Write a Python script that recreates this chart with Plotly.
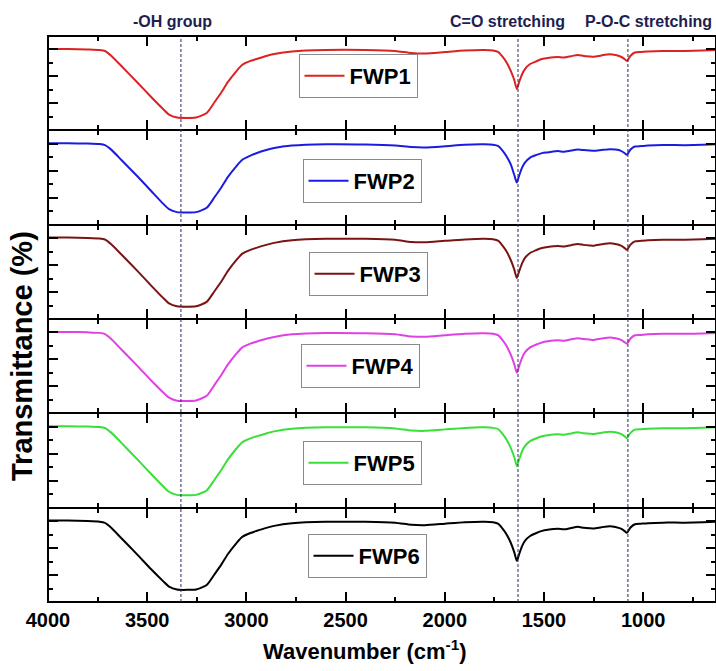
import plotly.graph_objects as go
from plotly.subplots import make_subplots

# ---------------- data ----------------
wavenumber = [4000, 3900, 3800, 3740, 3713, 3680, 3630, 3552, 3480, 3420,
              3390, 3350, 3300, 3254, 3200, 3160, 3125, 3093, 3050, 3022,
              2980, 2950, 2900, 2860, 2770, 2600, 2400, 2250, 2170, 2100,
              2000, 1900, 1800, 1757, 1730, 1712, 1690, 1667, 1650, 1637,
              1625, 1610, 1596, 1570, 1541, 1510, 1481, 1430, 1400, 1364,
              1330, 1300, 1270, 1248, 1210, 1167, 1140, 1112, 1095, 1082,
              1065, 1042, 1010, 976, 900, 790, 700, 633]

fwp1 = [60.4, 60.4, 60.0, 59.6, 58.9, 55.2, 47.7, 35.9, 24.7, 15.8,
        11.7, 9.5, 9.2, 9.5, 12.9, 21.0, 28.4, 35.9, 44.0, 48.5,
        51.5, 52.9, 55.2, 56.6, 58.5, 59.6, 59.6, 58.9, 57.4, 57.0,
        58.1, 59.2, 59.6, 59.2, 58.1, 55.2, 50.7, 44.0, 37.4, 30.7,
        35.9, 41.8, 45.5, 49.2, 51.1, 52.9, 53.7, 54.4, 54.0, 55.0,
        55.9, 55.2, 54.8, 54.6, 55.6, 56.4, 55.9, 54.6, 53.0, 51.5,
        55.2, 57.8, 58.1, 58.5, 58.9, 58.9, 59.2, 59.6]
fwp2 = [60.4, 60.4, 60.2, 59.8, 59.0, 55.5, 48.0, 36.3, 25.0, 15.6,
        11.5, 9.3, 9.0, 9.3, 12.5, 20.5, 28.0, 35.5, 43.5, 48.0,
        51.2, 53.0, 55.4, 56.9, 58.7, 59.7, 59.5, 58.7, 57.6, 57.3,
        58.2, 59.3, 59.6, 59.3, 58.3, 55.5, 51.0, 44.5, 37.0, 31.2,
        36.5, 42.5, 46.0, 49.8, 51.6, 53.1, 53.6, 54.6, 54.1, 55.0,
        55.7, 55.4, 55.0, 54.8, 55.4, 56.0, 55.7, 54.8, 53.2, 51.8,
        55.6, 58.0, 58.3, 58.7, 59.1, 59.0, 59.3, 59.7]
fwp3 = [60.4, 60.4, 60.1, 59.7, 59.0, 55.3, 47.9, 36.1, 24.8, 15.7,
        11.6, 9.4, 9.1, 9.4, 12.7, 20.8, 28.2, 35.7, 43.8, 48.3,
        51.3, 52.8, 55.0, 56.5, 58.4, 59.5, 59.5, 58.8, 57.2, 56.9,
        58.0, 59.0, 59.5, 59.1, 58.0, 55.0, 50.4, 43.6, 36.8, 30.5,
        35.5, 41.5, 45.3, 49.0, 51.0, 52.7, 53.5, 54.2, 53.8, 54.8,
        55.7, 55.0, 54.6, 54.4, 55.4, 56.2, 55.6, 54.4, 52.8, 51.3,
        55.0, 57.6, 58.0, 58.4, 58.8, 58.8, 59.1, 59.5]
fwp4 = [60.4, 60.4, 60.1, 59.7, 58.8, 55.0, 47.4, 35.6, 24.4, 15.6,
        11.7, 9.4, 9.2, 9.5, 13.0, 21.3, 28.8, 36.3, 44.3, 48.8,
        51.7, 53.1, 55.3, 56.7, 58.6, 59.6, 59.4, 58.6, 57.1, 56.8,
        58.0, 59.1, 59.5, 59.1, 57.9, 54.9, 50.3, 43.3, 36.5, 30.2,
        35.2, 41.4, 45.2, 48.9, 50.9, 52.6, 53.5, 54.3, 53.9, 54.9,
        55.8, 55.1, 54.7, 54.5, 55.5, 56.3, 55.7, 54.5, 52.9, 51.6,
        55.3, 57.9, 58.2, 58.6, 59.0, 59.0, 59.3, 59.7]
fwp5 = [60.4, 60.4, 60.2, 59.8, 59.1, 55.5, 48.1, 36.2, 25.0, 15.9,
        11.8, 9.5, 9.2, 9.5, 12.8, 20.9, 28.3, 35.8, 43.9, 48.4,
        51.4, 52.9, 55.1, 56.6, 58.5, 59.6, 59.6, 58.8, 57.3, 57.0,
        58.1, 59.2, 59.6, 59.2, 58.2, 55.3, 50.8, 44.2, 37.6, 31.0,
        36.0, 42.0, 45.7, 49.4, 51.3, 53.0, 53.8, 54.5, 54.1, 55.1,
        55.9, 55.3, 54.9, 54.7, 55.6, 56.3, 56.0, 54.7, 53.1, 51.6,
        55.3, 57.9, 58.2, 58.6, 59.0, 59.0, 59.3, 59.7]
fwp6 = [60.4, 60.4, 60.1, 59.6, 58.7, 54.9, 47.3, 35.5, 24.3, 15.5,
        11.4, 9.2, 9.0, 9.3, 12.6, 20.7, 28.1, 35.6, 43.7, 48.2,
        51.2, 52.7, 55.0, 56.5, 58.4, 59.5, 59.5, 58.8, 57.3, 57.0,
        58.1, 59.2, 59.6, 59.2, 58.0, 55.0, 50.5, 43.8, 37.0, 30.6,
        35.6, 41.6, 45.4, 49.0, 51.0, 52.8, 53.6, 54.3, 53.9, 54.9,
        55.8, 55.1, 54.7, 54.5, 55.5, 56.3, 55.7, 54.4, 52.8, 51.3,
        55.1, 57.7, 58.1, 58.5, 58.9, 58.9, 59.2, 59.6]

sample_names = ["FWP1", "FWP2", "FWP3", "FWP4", "FWP5", "FWP6"]
sample_values = [fwp1, fwp2, fwp3, fwp4, fwp5, fwp6]
sample_colors = ["#dc2222", "#1c1ce0", "#7a1414", "#e040e4", "#38e038", "#000000"]

band_wavenumbers = [3330, 1631, 1077]
band_labels = ["-OH group", "C=O stretching", "P-O-C stretching"]

x_tick_values = [4000, 3500, 3000, 2500, 2000, 1500, 1000]

for v in sample_values:
    assert len(v) == len(wavenumber)

# ---------------- figure ----------------
W, H = 716, 671
ML, MR, MT, MB = 48, 0, 36, 69
plot_w = W - ML - MR
plot_h = H - MT - MB

SANS = "Liberation Sans, Arial, sans-serif"

fig = make_subplots(rows=6, cols=1, shared_xaxes=True, vertical_spacing=0)

# legend box centres (pixels) for each panel
legend_px = [(358, 76), (362, 181), (368, 274), (360, 366), (362, 463), (367, 556)]

for i, (name, vals, col) in enumerate(zip(sample_names, sample_values, sample_colors)):
    lg = "legend" if i == 0 else f"legend{i+1}"
    fig.add_trace(go.Scatter(x=wavenumber, y=vals, mode="lines", name=name,
                             line=dict(color=col, width=2, shape="spline", smoothing=0.6),
                             legend=lg, showlegend=True),
                  row=i + 1, col=1)
    px, py = legend_px[i]
    fig.update_layout({lg: dict(
        x=(px - ML) / plot_w, y=(MT + plot_h - py) / plot_h,
        xanchor="center", yanchor="middle",
        bgcolor="white", bordercolor="#8a8a8a", borderwidth=1,
        font=dict(family=SANS, size=22, color="black", weight="bold"),
        itemwidth=40,
    )})

fig.update_xaxes(range=[4000, 633], tickvals=x_tick_values,
                 ticks="inside", ticklen=10, tickwidth=2, tickcolor="black",
                 minor=dict(dtick=250, tick0=0, ticks="inside", ticklen=5,
                            tickwidth=2, tickcolor="black"),
                 showline=True, linewidth=1, linecolor="black", mirror="allticks",
                 showgrid=False, zeroline=False,
                 tickfont=dict(family=SANS, size=20, color="black", weight="bold"))
fig.update_yaxes(range=[0, 70], dtick=20, tick0=0,
                 ticks="inside", ticklen=10, tickwidth=2, tickcolor="black",
                 minor=dict(dtick=10, tick0=0, ticks="inside", ticklen=5,
                            tickwidth=2, tickcolor="black"),
                 showticklabels=False,
                 showline=True, linewidth=1, linecolor="black", mirror="allticks",
                 showgrid=False, zeroline=False)

# outer frame, a little heavier than the panel separators
fig.add_shape(type="rect", xref="paper", yref="paper", x0=0, x1=1, y0=0, y1=1,
              line=dict(color="black", width=2), fillcolor="rgba(0,0,0,0)", layer="above")

# dashed band markers
for wn in band_wavenumbers:
    fig.add_shape(type="line", xref="x", yref="paper", x0=wn, x1=wn, y0=0, y1=1,
                  line=dict(color="#2a2a5c", width=1, dash="3px,2px"), layer="above")

# band labels above the top panel
label_px = [172, 507, 648]
for txt, lx in zip(band_labels, label_px):
    fig.add_annotation(text=txt, xref="paper", yref="paper",
                       x=(lx - ML) / plot_w, y=(MT + plot_h - 21) / plot_h,
                       xanchor="center", yanchor="middle", showarrow=False,
                       font=dict(family=SANS, size=16, color="#1e1e50", weight="bold"))

# axis titles
fig.add_annotation(text="Wavenumber (cm<sup>-1</sup>)", xref="paper", yref="paper",
                   x=(365 - ML) / plot_w, y=(MT + plot_h - 650) / plot_h,
                   xanchor="center", yanchor="middle", showarrow=False,
                   font=dict(family=SANS, size=22, color="black", weight="bold"))
fig.add_annotation(text="Transmittance (%)", xref="paper", yref="paper",
                   x=(22 - ML) / plot_w, y=(MT + plot_h - 356) / plot_h,
                   xanchor="center", yanchor="middle", showarrow=False, textangle=-90,
                   font=dict(family=SANS, size=29, color="black", weight="bold"))

fig.update_layout(width=W, height=H,
                  margin=dict(l=ML, r=MR, t=MT, b=MB),
                  paper_bgcolor="white", plot_bgcolor="white")

fig.write_html("out.html")
